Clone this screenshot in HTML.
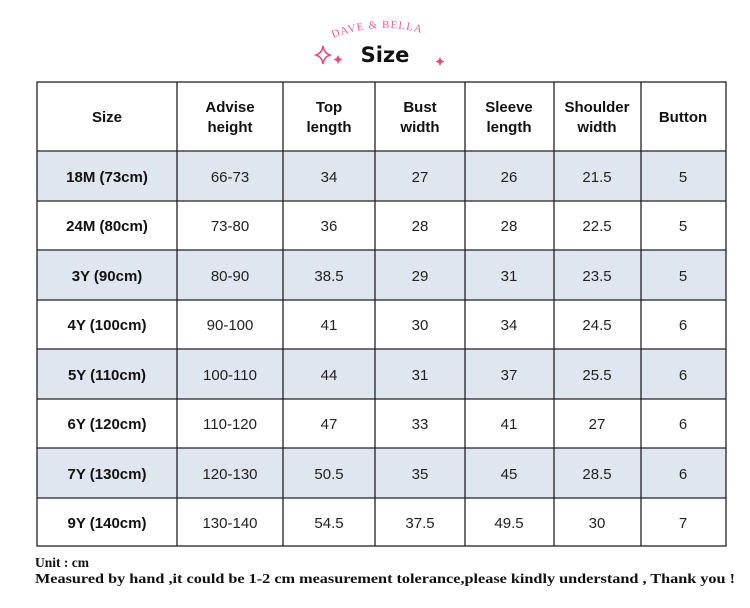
<!DOCTYPE html>
<html><head><style>
body{margin:0;background:#fff;width:750px;height:608px;overflow:hidden;position:relative;font-family:"Liberation Sans",Arial,sans-serif}
</style></head><body>
<svg width="750" height="608" xmlns="http://www.w3.org/2000/svg" style="position:absolute;left:0;top:0">
<defs><path id="arc" d="M333,38 Q385,18 437,38"/></defs>
<text font-family="Liberation Serif,serif" font-size="11" fill="#e0628e" letter-spacing="1"><textPath href="#arc">DAVE &amp; BELLA</textPath></text>
<text x="385" y="62" text-anchor="middle" font-family="DejaVu Sans,sans-serif" font-weight="bold" font-size="21" fill="#111">Size</text>
<path d="M323,46 Q324,53 330,55 Q324,57 323,64 Q322,57 316,55 Q322,53 323,46Z" fill="none" stroke="#e0507e" stroke-width="1.6"/>
<path d="M338,55 l1.5,3 3,1.5 -3,1.5 -1.5,3 -1.5,-3 -3,-1.5 3,-1.5z" fill="#e0507e"/>
<path d="M440,57 l1.5,3 3,1.5 -3,1.5 -1.5,3 -1.5,-3 -3,-1.5 3,-1.5z" fill="#e0507e"/>
<g fill="#dfe6f0">
<rect x="37" y="151" width="689" height="50"/>
<rect x="37" y="250" width="689" height="50"/>
<rect x="37" y="349" width="689" height="50"/>
<rect x="37" y="448" width="689" height="50"/>
</g>
<g stroke="#222" stroke-width="1.3" fill="none">
<rect x="37" y="82" width="689" height="464"/>
<path d="M37,151H726M37,201H726M37,250H726M37,300H726M37,349H726M37,399H726M37,448H726M37,498H726"/>
<path d="M177,82V546M283,82V546M375,82V546M465,82V546M554,82V546M641,82V546"/>
</g>
<g font-size="15" font-weight="bold" fill="#111" text-anchor="middle">
<text x="107" y="122">Size</text>
<text x="230" y="112">Advise</text><text x="230" y="132">height</text>
<text x="329" y="112">Top</text><text x="329" y="132">length</text>
<text x="420" y="112">Bust</text><text x="420" y="132">width</text>
<text x="509" y="112">Sleeve</text><text x="509" y="132">length</text>
<text x="597" y="112">Shoulder</text><text x="597" y="132">width</text>
<text x="683" y="122">Button</text>
</g>
<g font-size="15" fill="#222" text-anchor="middle">
<g font-weight="bold" fill="#111">
<text x="107" y="182">18M (73cm)</text>
<text x="107" y="231">24M (80cm)</text>
<text x="107" y="281">3Y (90cm)</text>
<text x="107" y="330">4Y (100cm)</text>
<text x="107" y="380">5Y (110cm)</text>
<text x="107" y="429">6Y (120cm)</text>
<text x="107" y="479">7Y (130cm)</text>
<text x="107" y="528">9Y (140cm)</text>
</g>
<text x="230" y="182">66-73</text><text x="329" y="182">34</text><text x="420" y="182">27</text><text x="509" y="182">26</text><text x="597" y="182">21.5</text><text x="683" y="182">5</text>
<text x="230" y="231">73-80</text><text x="329" y="231">36</text><text x="420" y="231">28</text><text x="509" y="231">28</text><text x="597" y="231">22.5</text><text x="683" y="231">5</text>
<text x="230" y="281">80-90</text><text x="329" y="281">38.5</text><text x="420" y="281">29</text><text x="509" y="281">31</text><text x="597" y="281">23.5</text><text x="683" y="281">5</text>
<text x="230" y="330">90-100</text><text x="329" y="330">41</text><text x="420" y="330">30</text><text x="509" y="330">34</text><text x="597" y="330">24.5</text><text x="683" y="330">6</text>
<text x="230" y="380">100-110</text><text x="329" y="380">44</text><text x="420" y="380">31</text><text x="509" y="380">37</text><text x="597" y="380">25.5</text><text x="683" y="380">6</text>
<text x="230" y="429">110-120</text><text x="329" y="429">47</text><text x="420" y="429">33</text><text x="509" y="429">41</text><text x="597" y="429">27</text><text x="683" y="429">6</text>
<text x="230" y="479">120-130</text><text x="329" y="479">50.5</text><text x="420" y="479">35</text><text x="509" y="479">45</text><text x="597" y="479">28.5</text><text x="683" y="479">6</text>
<text x="230" y="528">130-140</text><text x="329" y="528">54.5</text><text x="420" y="528">37.5</text><text x="509" y="528">49.5</text><text x="597" y="528">30</text><text x="683" y="528">7</text>
</g>
<g font-family="Liberation Serif,serif" font-weight="bold" font-size="13.5" fill="#111">
<text x="35" y="567">Unit : cm</text>
<text x="35" y="583" textLength="700" lengthAdjust="spacingAndGlyphs">Measured by hand ,it could be 1-2 cm measurement tolerance,please kindly understand , Thank you !</text>
</g>
</svg>
</body></html>
